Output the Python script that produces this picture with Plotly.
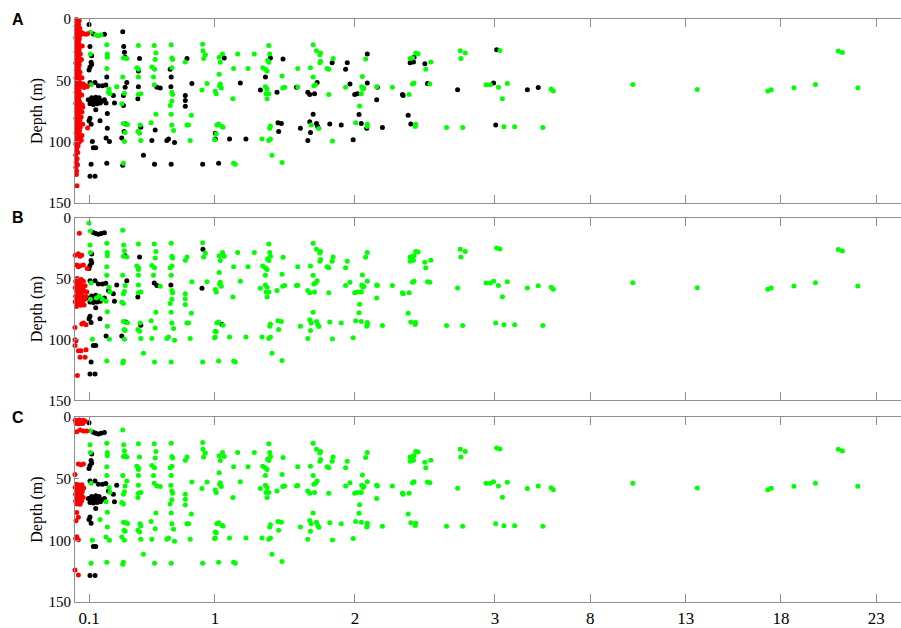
import plotly.graph_objects as go

# ---------------------------------------------------------------------------
# Sample points shared by the three panels: concentration and depth (m)
# ---------------------------------------------------------------------------
conc = [
    # low-concentration cluster
    0.100, 0.131, 0.148, 0.167, 0.186, 0.210, 0.119, 0.115, 0.119, 0.107, 0.100,
    0.107, 0.143, 0.167, 0.196, 0.220, 0.298, 0.239, 0.274, 0.282, 0.095, 0.110,
    0.124, 0.138, 0.153, 0.167, 0.181, 0.196, 0.107, 0.131, 0.158, 0.210, 0.119,
    0.148, 0.172, 0.148, 0.107, 0.100, 0.115, 0.131, 0.148, 0.107, 0.143, 0.179,
    # 0.1 - 0.25
    0.110, 0.107, 0.110, 0.115, 0.124, 0.115, 0.227, 0.231, 0.231, 0.227, 0.227,
    0.222, 0.231, 0.231, 0.222, 0.246, 0.227, 0.243, 0.250,
    # 0.33 - 0.38
    0.341, 0.348, 0.353, 0.346, 0.358, 0.370, 0.341, 0.370, 0.358, 0.353, 0.346,
    0.334, 0.346, 0.346, 0.363, 0.375, 0.351, 0.358, 0.334, 0.353, 0.346, 0.341,
    # 0.44 - 0.49
    0.453, 0.461, 0.442, 0.453, 0.453, 0.453, 0.453, 0.470, 0.453, 0.449, 0.465,
    0.470, 0.449, 0.461, 0.470, 0.489,
    # 0.54 - 0.61
    0.566, 0.578, 0.573, 0.549, 0.568, 0.561, 0.566, 0.585, 0.609, 0.578, 0.544,
    0.573, 0.549, 0.568,
    # 0.66 - 0.71
    0.687, 0.692, 0.697, 0.692, 0.680, 0.687, 0.685, 0.692, 0.697, 0.692, 0.680,
    0.687, 0.692, 0.704, 0.668, 0.656, 0.711, 0.687,
    # 0.79 - 0.95
    0.800, 0.788, 0.788, 0.788, 0.788, 0.800, 0.811, 0.823, 0.835, 0.831, 0.912,
    0.914, 0.931, 0.919, 0.943, 0.907, 0.912,
    # 1 - 2, upper
    1.030, 1.054, 1.066, 1.038, 1.162, 1.281, 1.384, 1.391, 1.396, 1.376, 1.384,
    1.486, 1.133, 1.236, 1.341, 1.360, 1.372, 1.030, 1.360, 1.479, 1.591, 1.682,
    1.701, 1.725, 1.754, 1.749, 1.754, 1.749, 1.801, 1.813, 1.844, 1.837, 1.933,
    1.945, 1.964,
    # 1 - 2, middle
    1.038, 1.033, 1.045, 1.002, 1.009, 1.181, 1.128, 1.324, 1.360, 1.372, 1.365,
    1.384, 1.372, 1.443, 1.484, 1.498, 1.582, 1.591, 1.663, 1.677, 1.711, 1.701,
    1.706, 1.718, 1.730, 1.813, 1.933,
    # 1 - 2, lower
    1.014, 1.026, 1.050, 1.057, 1.002, 1.009, 1.002, 0.997, 1.104, 1.221, 1.336,
    1.384, 1.396, 1.396, 1.391, 1.450, 1.474, 1.455, 1.610, 1.677, 1.687, 1.682,
    1.725, 1.734, 1.742, 1.701, 1.820, 1.902, 1.663, 1.839, 1.987, 1.407, 1.026,
    1.133, 1.145, 1.479,
    # 2 - 3
    2.088, 2.076, 2.053, 2.088, 2.048, 2.064, 2.057, 2.155, 2.160, 2.267, 1.998,
    2.017, 2.045, 2.155, 2.339, 2.344, 2.387, 2.033, 2.029, 2.005, 2.045, 2.088,
    2.088, 2.084, 2.196, 2.380, 2.399, 2.434, 2.430, 2.654, 2.769,
    # 2.4 and beyond
    2.394, 2.411, 2.422, 2.406, 2.434, 2.451, 2.394, 2.418, 2.499, 2.542, 2.506,
    2.411, 2.422, 2.518, 2.535, 2.752, 2.788, 2.757, 2.733, 2.936, 2.967, 2.990,
    3.18, 3.04, 3.09, 3.26, 3.65, 3.39, 4.70, 5.27, 5.95, 6.06, 3.47,
    4.03, 5.51, 10.23, 13.61, 17.31, 17.49, 18.68, 19.81, 21.01, 21.22, 22.03,
]

depth = [
    4.5, 12.3, 13.1, 13.6, 13.1, 12.5, 29.9, 35.2, 37.1, 39.2, 41.7,
    51.8, 51.8, 54.5, 54.5, 53.9, 55.3, 59.8, 62.5, 68.6, 66.0, 67.0,
    66.0, 67.8, 66.0, 67.0, 68.6, 67.0, 69.2, 69.7, 69.2, 66.0, 64.3,
    63.8, 64.3, 74.0, 81.0, 83.0, 86.0, 105.0, 105.0, 128.4, 128.4, 83.0,

    10.9, 22.4, 28.6, 53.7, 99.9, 118.5, 21.1, 28.6, 31.2, 40.3, 47.3,
    68.6, 77.2, 89.2, 97.2, 99.9, 117.7, 57.1, 61.0,

    10.4, 22.4, 27.2, 31.8, 31.2, 32.3, 47.3, 51.8, 55.8, 60.6, 62.5,
    69.2, 70.5, 85.2, 85.7, 86.2, 91.8, 92.6, 97.2, 99.9, 117.7, 119.3,

    21.6, 32.3, 39.8, 41.1, 42.5, 47.3, 55.3, 61.1, 61.7, 65.1, 86.5,
    88.4, 91.8, 93.2, 99.1, 111.3,

    21.6, 27.8, 33.1, 39.2, 41.1, 47.3, 53.7, 55.8, 56.3, 77.7, 84.6,
    90.5, 99.1, 118.5,

    21.1, 31.8, 33.1, 39.8, 41.1, 47.3, 55.3, 59.8, 61.7, 67.0, 70.5,
    77.7, 86.5, 91.0, 98.0, 99.1, 100.7, 118.5,

    32.3, 35.0, 62.5, 66.5, 71.3, 86.5, 86.5, 99.1, 52.6, 78.5, 20.6,
    25.9, 29.1, 32.3, 52.6, 57.9, 118.5,

    31.2, 28.6, 31.8, 35.2, 28.6, 28.6, 21.6, 28.6, 31.8, 33.9, 35.2,
    32.6, 40.3, 40.3, 39.8, 41.1, 42.5, 45.1, 47.3, 46.5, 40.3, 39.8,
    21.1, 25.9, 27.8, 29.1, 34.4, 35.8, 40.3, 41.1, 32.3, 35.8, 41.1,
    35.8, 53.1,

    53.1, 54.5, 56.3, 59.0, 61.1, 52.3, 65.1, 57.9, 55.3, 57.1, 61.1,
    61.1, 65.1, 59.8, 56.3, 55.8, 55.8, 55.5, 59.8, 61.7, 61.1, 47.3,
    54.5, 53.7, 51.8, 61.7, 55.8,

    86.5, 85.7, 87.8, 88.4, 93.2, 93.7, 98.0, 98.5, 98.0, 98.0, 98.0,
    99.1, 98.0, 87.3, 89.2, 84.6, 85.2, 91.8, 89.2, 83.8, 86.5, 92.6,
    85.2, 87.8, 89.4, 77.7, 85.7, 86.5, 99.1, 99.6, 98.5, 111.3, 117.7,
    117.7, 118.5, 117.2,

    28.6, 32.6, 47.0, 52.3, 55.3, 56.3, 57.1, 55.3, 55.8, 55.8, 61.7,
    61.1, 61.1, 66.0, 61.7, 62.5, 61.7, 71.0, 78.0, 84.6, 85.2, 86.0,
    87.8, 89.2, 88.6, 78.5, 85.7, 86.0, 87.8, 88.6, 88.6,

    32.3, 31.8, 31.2, 34.4, 27.8, 28.3, 35.8, 35.0, 36.6, 35.0, 41.1,
    53.1, 52.3, 52.6, 53.1, 25.9, 27.8, 32.3, 57.7, 53.7, 53.7, 52.3,
    55.8, 86.5, 25.0, 25.8, 52.7, 65.0, 57.8, 55.9, 57.2, 58.8, 88.0,
    88.0, 88.5, 53.5, 57.5, 58.8, 57.7, 56.1, 53.5, 26.1, 27.4, 56.1,
]

# Colour class of every shared point in each panel: k = black, g = green
class_a = (
    "kkgggk" "kkkkkkkkkk" "gg" "kkkkkkkkkkkkkkkkkkkkkkkkkk"
    "gkggkkggggkkkkkkkgg"
    "kkkgkggkkgkgkgkgkgkggk"
    "gkggkgkggkgkgggk"
    "gggggggkkggkkk"
    "ggggkkkgggggggkkkk"
    "kgkkkgggkgggggggk"
    "ggkggggg" "kggk" "ggggggk" "gggggggggggg" "kkkk"
    "gggggkgkgggggkggkgkkkgggkgg"
    "ggggkgkgkkgggggkkkkkgkkkgkkkkgkgkggg"
    "kggkggggkgkkgkkkggkgkggkkkkgggg"
    "ggkkggkkkggggkggggkggkgkkgggkkgg" "gggggggggggg"
)
class_b = (
    "gkkkkk" "kkkkkkkkkkkkkkk" "g" "kk" "g" "kk" "g" "kkkkkk" "g" "kkkkkkkkk"
    "ggggg" "k" "gggggggg" "k" "gggg"
    "ggggkggkggggggkgggkggg"
    "gkgggggggkgkgggg"
    "ggggggkkgggggg"
    "ggggggkggggggggggg"
    "ggggggggggg" "k" "ggg" "k" "g"
)
class_b = class_b + "g" * 35 + "g" * 27 + "ggkg" + "g" * 32 + "g" * 31 + "g" * 44
class_c = "k" * 43 + "g" + "g" * (len(conc) - 44)

# Points below 0.1, drawn in red, differ from panel to panel
red_a_conc = [
    0.010, 0.018, 0.008, 0.015, 0.012, 0.006, 0.016, 0.010, 0.014, 0.008, 0.017, 0.011,
    0.006, 0.015, 0.009, 0.013, 0.007, 0.016, 0.010, 0.014, 0.008, 0.017, 0.011, 0.006,
    0.014, 0.009, 0.013, 0.007, 0.016, 0.010, 0.014, 0.008, 0.017, 0.011, 0.006, 0.013,
    0.030, 0.025, 0.034, 0.028, 0.036, 0.030, 0.026, 0.035, 0.029, 0.038, 0.027, 0.033,
    0.030, 0.025, 0.036, 0.031, 0.027, 0.038, 0.034, 0.029, 0.036, 0.026, 0.033, 0.030,
    0.037, 0.024, 0.031, 0.035, 0.028, 0.037, 0.032, 0.026, 0.035, 0.029, 0.022,
    0.048, 0.062, 0.078, 0.090, 0.052, 0.046, 0.050, 0.060, 0.075, 0.088, 0.065, 0.048,
    0.052, 0.055, 0.050, 0.044, 0.055, 0.090, 0.050, 0.045,
    0.010, 0.020, 0.005, 0.015, 0.008, 0.018, 0.006, 0.012, 0.010, 0.014,
]
red_a_depth = [
    0.5, 3.0, 6.0, 9.0, 12.0, 15.0, 18.0, 21.0, 24.0, 27.0, 30.0, 33.0,
    36.0, 39.0, 42.0, 45.0, 48.0, 51.0, 54.0, 57.0, 60.0, 63.0, 66.0, 69.0,
    72.0, 75.0, 78.0, 81.0, 84.0, 87.0, 90.0, 93.0, 96.0, 99.0, 102.0, 105.0,
    1.5, 4.5, 7.5, 10.5, 13.5, 16.5, 19.5, 22.5, 25.5, 28.5, 31.5, 34.5,
    37.5, 40.5, 43.5, 46.5, 49.5, 52.5, 55.5, 58.5, 61.5, 64.5, 67.5, 70.5,
    73.5, 76.5, 79.5, 82.5, 85.5, 88.5, 91.5, 94.5, 97.5, 100.5, 103.5,
    11.0, 12.0, 12.5, 12.0, 22.0, 33.0, 48.0, 53.0, 54.5, 55.0, 56.0, 62.0,
    70.0, 72.0, 76.0, 80.0, 86.0, 89.0, 95.0, 99.0,
    107.0, 109.0, 111.0, 114.0, 117.0, 119.0, 121.0, 124.0, 127.0, 136.0,
]

red_b_conc = [
    0.031, 0.024, 0.048, 0.036, 0.002, 0.012, 0.036, 0.060, 0.024, 0.088,
    0.015, 0.045, 0.005, 0.030, 0.060, 0.018, 0.042, 0.072, 0.002, 0.028,
    0.055, 0.012, 0.038, 0.065, 0.085, 0.022, 0.048, 0.005, 0.032, 0.058,
    0.078, 0.015, 0.042, 0.068, 0.002, 0.028, 0.052, 0.018, 0.040, 0.065,
    0.010,
    0.048, 0.079, 0.060, 0.000, 0.000, 0.007, 0.000, 0.024, 0.043, 0.079,
    0.036, 0.072, 0.017,
]
red_b_depth = [
    12.9, 29.6, 30.9, 31.7, 30.9, 38.9, 39.5, 38.9, 40.3, 41.7,
    50.0, 50.8, 52.5, 53.0, 52.2, 55.0, 55.5, 56.0, 57.5, 58.0,
    57.8, 60.0, 60.5, 60.2, 61.0, 62.5, 63.0, 64.5, 65.0, 65.2,
    64.8, 67.0, 67.5, 67.2, 69.0, 69.5, 69.8, 71.5, 72.0, 71.8,
    73.0,
    87.2, 88.0, 86.4, 90.2, 100.2, 101.0, 105.0, 109.2, 109.2, 108.4,
    114.6, 114.6, 129.5,
]

red_c_conc = [
    0.002, 0.015, 0.030, 0.045, 0.060, 0.074, 0.008, 0.024, 0.040, 0.055,
    0.012, 0.036, 0.060, 0.084,
    0.024, 0.043, 0.060, 0.000,
    0.010, 0.030, 0.050, 0.002, 0.020, 0.042, 0.062, 0.012, 0.032, 0.052,
    0.004, 0.024, 0.045, 0.015, 0.035, 0.058, 0.005, 0.026, 0.046, 0.015,
    0.036,
    0.012, 0.024, 0.007, 0.012, 0.024, 0.005, 0.000, 0.024,
]
red_c_depth = [
    2.5, 3.0, 2.2, 3.0, 2.5, 3.2, 5.0, 5.2, 4.8, 5.0,
    11.8, 10.4, 11.2, 11.2,
    38.0, 38.5, 38.0, 46.5,
    54.5, 55.0, 54.8, 57.0, 57.5, 58.0, 57.5, 60.0, 60.5, 60.2,
    62.5, 63.0, 62.8, 65.5, 65.8, 65.2, 68.0, 68.5, 68.2, 70.5,
    70.6,
    77.3, 81.3, 84.0, 97.0, 99.5, 98.5, 124.0, 128.0,
]

tick_values = [0.1, 1, 2, 3, 8, 13, 18, 23]
tick_labels = ["0.1", "1", "2", "3", "8", "13", "18", "23"]
depth_ticks = [0, 50, 100, 150]
panel_names = ["A", "B", "C"]

# ---------------------------------------------------------------------------
# Broken horizontal scale: linear up to 3, compressed above it
# ---------------------------------------------------------------------------
BREAK = 3.0
TAIL = 0.1362


def squash(v):
    return v if v <= BREAK else BREAK + (v - BREAK) * TAIL


assert len(conc) == len(depth) == len(class_a) == len(class_b) == len(class_c), (
    len(conc), len(depth), len(class_a), len(class_b), len(class_c))

GREEN = "#00ff00"
BLACK = "#000000"
RED = "#ff0000"
AXIS = "#8e8e8e"
SERIF = "Times New Roman, Liberation Serif, DejaVu Serif, serif"
DOT = 5

W, H = 901, 628
ML, MR, MT, MB = 75, 0, 19, 19
plot_h = H - MT - MB
# panel top/bottom in pixels
panel_px = [(19, 205), (220, 405), (422, 609)]
domains = [[1 - (b - MT) / plot_h, 1 - (t - MT) / plot_h] for t, b in panel_px]

fig = go.Figure()
panels = [
    (class_a, red_a_conc, red_a_depth),
    (class_b, red_b_conc, red_b_depth),
    (class_c, red_c_conc, red_c_depth),
]
for i, (cls, rx, rd) in enumerate(panels):
    xa = "x" if i == 0 else f"x{i + 1}"
    ya = "y" if i == 0 else f"y{i + 1}"
    for code, colour in (("k", BLACK), ("g", GREEN)):
        xs = [squash(v) for v, c in zip(conc, cls) if c == code]
        ys = [d for d, c in zip(depth, cls) if c == code]
        fig.add_trace(go.Scatter(
            x=xs, y=ys, mode="markers", xaxis=xa, yaxis=ya,
            marker=dict(color=colour, size=DOT, line=dict(width=0)),
            showlegend=False, hoverinfo="skip", cliponaxis=False,
        ))
    fig.add_trace(go.Scatter(
        x=[squash(v) for v in rx], y=rd, mode="markers", xaxis=xa, yaxis=ya,
        marker=dict(color=RED, size=DOT, line=dict(width=0)),
        showlegend=False, hoverinfo="skip", cliponaxis=False,
    ))

x_max = (W - ML - MR) / ((876.3 - 89.0) / (squash(23) - 0.1))
layout = dict(
    width=W, height=H,
    margin=dict(l=ML, r=MR, t=MT, b=MB),
    paper_bgcolor="white", plot_bgcolor="white",
    showlegend=False,
)
for i in range(3):
    sx = "" if i == 0 else str(i + 1)
    layout[f"xaxis{sx}"] = dict(
        domain=[0, 1], anchor=f"y{sx}", range=[0, x_max],
        tickmode="array", tickvals=[squash(v) for v in tick_values], ticktext=tick_labels,
        showticklabels=(i == 2), ticks="inside", ticklen=8, tickwidth=1.2, tickcolor=AXIS,
        showline=True, linecolor=AXIS, linewidth=1.2, mirror="ticks",
        showgrid=False, zeroline=False,
        tickfont=dict(family=SERIF, size=17, color="black"),
    )
    layout[f"yaxis{sx}"] = dict(
        domain=domains[i], anchor=f"x{sx}", range=[150, 0],
        tickmode="array", tickvals=depth_ticks,
        ticks="inside", ticklen=4, tickwidth=1.2, tickcolor=AXIS,
        showline=True, linecolor=AXIS, linewidth=1.2, mirror=False,
        showgrid=False, zeroline=False,
        tickfont=dict(family=SERIF, size=15, color="black"),
        title=dict(text="Depth (m)", standoff=1,
                   font=dict(family=SERIF, size=16, color="black")),
    )
fig.update_layout(**layout)

for i, name in enumerate(panel_names):
    fig.add_annotation(
        text=f"<b>{name}</b>", xref="paper", yref="paper",
        x=(18 - ML) / (W - ML - MR), y=domains[i][1],
        xanchor="center", yanchor="middle", showarrow=False,
        font=dict(family="Liberation Sans, Arial, sans-serif", size=16, color="black"),
    )

fig.write_html("out.html")
